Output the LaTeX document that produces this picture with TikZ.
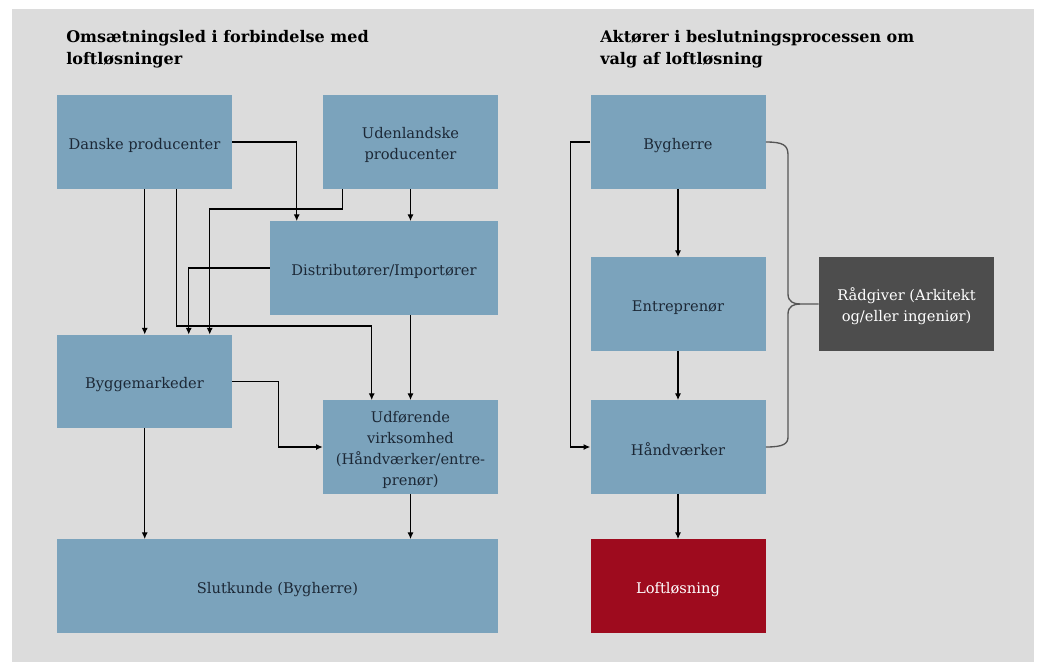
\documentclass[tikz,border=0pt]{standalone}
\usepackage{fontspec}
\setmainfont{DejaVu Serif}
\usetikzlibrary{arrows.meta,calc}
\definecolor{bggray}{HTML}{DCDCDC}
\definecolor{boxblue}{HTML}{7BA3BC}
\definecolor{boxdark}{HTML}{4D4D4D}
\definecolor{boxred}{HTML}{9E0B1E}
\definecolor{txt}{HTML}{1C2836}
\definecolor{bracegray}{HTML}{555555}
\newcommand{\lowstrut}{\rule{0pt}{13.5pt}}
\tikzset{
  box/.style={rectangle, fill=boxblue, text=txt, align=center, inner sep=2pt,
    font=\fontsize{11}{15.75}\selectfont, minimum width=131.25pt, minimum height=70pt},
  conn/.style={draw=black, line width=0.85pt, -{Latex[length=5pt,width=4.5pt]}},
  bracestyle/.style={draw=bracegray, line width=1pt},
  title/.style={anchor=north west, align=left, text=black, font=\bfseries\fontsize{12}{16.5}\selectfont, inner sep=0pt}
}
\begin{document}
\begin{tikzpicture}[x=0.75pt,y=-0.75pt]
\useasboundingbox (0,0) rectangle (1038,662);
\fill[bggray] (12,9) rectangle (1034,662);
% titles
\node[title] (t1) at (66,30) {Omsætningsled i forbindelse med\\loftløsninger};
\node[title] (t2) at (600,30) {Aktører i beslutningsprocessen om\\valg af loftløsning};
% left boxes
\node[box] (dan) at (144.5,142) {\lowstrut Danske producenter};
\node[box] (ude) at (410.5,142) {\lowstrut Udenlandske\\producenter};
\node[box, minimum width=171pt] (dist) at (384,268) {\lowstrut Distributører/Importører};
\node[box] (bygm) at (144.5,381.5) {\lowstrut Byggemarkeder};
\node[box] (udf) at (410.5,447) {\lowstrut Udførende\\virksomhed\\(Håndværker/entre-\\prenør)};
\node[box, minimum width=330.75pt] (slut) at (277.5,586) {\lowstrut Slutkunde (Bygherre)};
% right boxes
\node[box] (bygh) at (678,142) {\lowstrut Bygherre};
\node[box] (entr) at (678,304) {\lowstrut Entreprenør};
\node[box] (hand) at (678,447) {\lowstrut Håndværker};
\node[box, fill=boxred, text=white] (loft) at (678,586) {\lowstrut Loftløsning};
\node[box, fill=boxdark, text=white] (rad) at (906.5,304) {\lowstrut Rådgiver (Arkitekt\\og/eller ingeniør)};
% left connectors
\draw[conn] (dan.east) -| ($(dist.north west)+(27,0)$);
\draw[conn] (ude.south) -- (ude.south |- dist.north);
\draw[conn] ($(ude.south west)+(20,0)$) -- ++(0,20) -| ($(bygm.north west)+(153,0)$);
\draw[conn] ($(dan.south west)+(88,0)$) -- ($(bygm.north west)+(88,0)$);
\draw[conn] ($(dan.south west)+(120,0)$) -- ++(0,137) -| ($(udf.north west)+(49,0)$);
\draw[conn] (dist.west) -| ($(bygm.north west)+(132,0)$);
\draw[conn] (udf.north |- dist.south) -- (udf.north);
\draw[conn] (bygm.east) -- ++(46,0) |- (udf.west);
\draw[conn] ($(bygm.south west)+(88,0)$) -- ($(slut.north west)+(88,0)$);
\draw[conn] (udf.south) -- (udf.south |- slut.north);
% right connectors
\draw[conn] (bygh.south) -- (entr.north);
\draw[conn] (entr.south) -- (hand.north);
\draw[conn] (hand.south) -- (loft.north);
\draw[conn] (bygh.west) -- ++(-20,0) |- (hand.west);
% brace
\coordinate (tip) at (800,304);
\draw[bracestyle] (bygh.east) .. controls (783,142) and (788,145) .. (788,155)
  -- (788,294) .. controls (788,302) and (794,304) .. (tip) -- (rad.west);
\draw[bracestyle] (tip) .. controls (794,304) and (788,306) .. (788,314)
  -- (788,437) .. controls (788,444) and (783,447) .. (hand.east);
\end{tikzpicture}
\end{document}
